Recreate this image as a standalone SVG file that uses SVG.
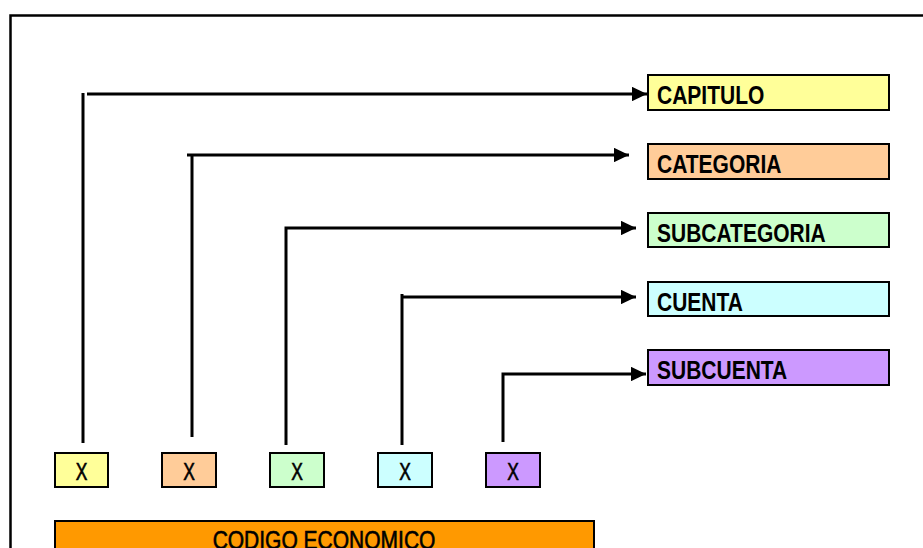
<svg xmlns="http://www.w3.org/2000/svg" width="923" height="548" viewBox="0 0 923 548">
<style>
.box{stroke:#000;stroke-width:2}
.lbl{font-family:"Liberation Sans",Arial,sans-serif;font-size:25px;font-weight:bold;fill:#000}
.x{font-family:"Liberation Sans",Arial,sans-serif;font-size:23px;fill:#000;stroke:#000;stroke-width:0.6;text-anchor:middle}
.cod{font-family:"Liberation Sans",Arial,sans-serif;font-size:25px;fill:#000;stroke:#000;stroke-width:0.6;text-anchor:middle}
.ln{fill:none;stroke:#000;stroke-width:3}
</style>
<defs>
<marker id="ah" markerWidth="5" markerHeight="4.8" refX="5" refY="2.4" orient="auto" markerUnits="strokeWidth">
<path d="M0,0 L5,2.4 L0,4.8 Z" fill="#000"/>
</marker>
</defs>
<rect width="923" height="548" fill="#fff"/>
<path d="M10.5,548 V15.5 H923" fill="none" stroke="#000" stroke-width="2.5"/>
<g id="connectors">
<line class="ln" x1="83" y1="93" x2="83" y2="443"/>
<line class="ln" x1="87" y1="94" x2="647" y2="94" marker-end="url(#ah)"/>
<line class="ln" x1="192" y1="155" x2="192" y2="437"/>
<line class="ln" x1="187" y1="155" x2="629" y2="155" marker-end="url(#ah)"/>
<path class="ln" d="M286,445 V228 H636" marker-end="url(#ah)"/>
<line class="ln" x1="402" y1="445" x2="402" y2="294"/>
<line class="ln" x1="401" y1="297" x2="636" y2="297" marker-end="url(#ah)"/>
<path class="ln" d="M503,442 V374 H646" marker-end="url(#ah)"/>
</g>
<g id="capitulo"><rect class="box" x="648" y="75" width="241" height="35" fill="#FFFF99"/><text class="lbl" transform="translate(657,103.5) scale(0.84,1)">CAPITULO</text></g>
<g id="categoria"><rect class="box" x="648" y="144" width="241" height="35" fill="#FFCC99"/><text class="lbl" transform="translate(657,172.5) scale(0.84,1)">CATEGORIA</text></g>
<g id="subcategoria"><rect class="box" x="648" y="213" width="241" height="34" fill="#CCFFCC"/><text class="lbl" transform="translate(657,241.5) scale(0.84,1)">SUBCATEGORIA</text></g>
<g id="cuenta"><rect class="box" x="648" y="282" width="241" height="34" fill="#CCFFFF"/><text class="lbl" transform="translate(657,310.5) scale(0.84,1)">CUENTA</text></g>
<g id="subcuenta"><rect class="box" x="648" y="350" width="241" height="35" fill="#CC99FF"/><text class="lbl" transform="translate(657,378.5) scale(0.84,1)">SUBCUENTA</text></g>
<g id="x1"><rect class="box" x="55" y="453" width="53" height="34" fill="#FFFF99"/><text class="x" transform="translate(81.5,479.5) scale(0.76,1)">X</text></g>
<g id="x2"><rect class="box" x="162" y="453" width="54" height="34" fill="#FFCC99"/><text class="x" transform="translate(189,479.5) scale(0.76,1)">X</text></g>
<g id="x3"><rect class="box" x="270" y="453" width="54" height="34" fill="#CCFFCC"/><text class="x" transform="translate(297,479.5) scale(0.76,1)">X</text></g>
<g id="x4"><rect class="box" x="378" y="453" width="54" height="34" fill="#CCFFFF"/><text class="x" transform="translate(405,479.5) scale(0.76,1)">X</text></g>
<g id="x5"><rect class="box" x="486" y="453" width="54" height="34" fill="#CC99FF"/><text class="x" transform="translate(513,479.5) scale(0.76,1)">X</text></g>
<g id="codigo"><rect class="box" x="55" y="521" width="539" height="40" fill="#FF9900"/><text class="cod" transform="translate(324,548.5) scale(0.84,1)">CODIGO ECONOMICO</text></g>
</svg>
